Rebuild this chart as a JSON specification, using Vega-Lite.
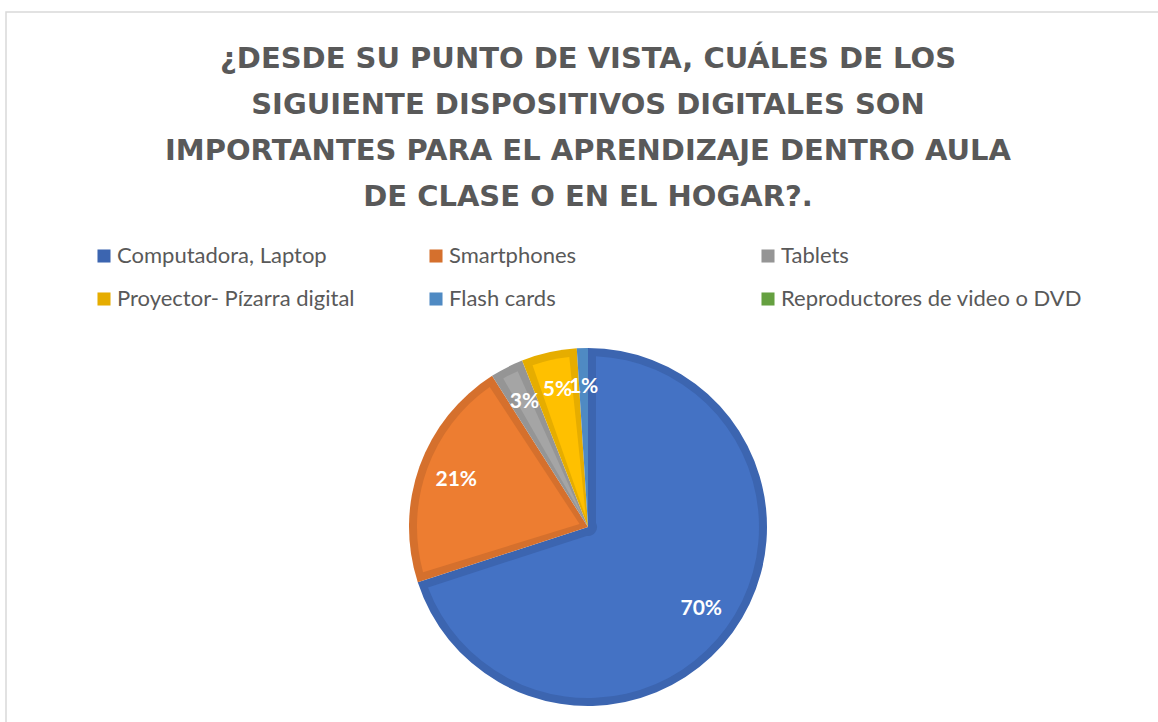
{
  "$schema": "https://vega.github.io/schema/vega-lite/v6.json",
  "autosize": {"type": "fit", "contains": "padding"},
  "width": 1158,
  "height": 722,
  "padding": {"left": 6, "top": 12, "right": -12, "bottom": -320},
  "background": "white",
  "view": {"stroke": "#d9d9d9", "strokeWidth": 1.5, "fill": "white"},
  "title": {
    "text": ["¿DESDE SU PUNTO DE VISTA, CUÁLES DE LOS", "SIGUIENTE DISPOSITIVOS DIGITALES SON", "IMPORTANTES PARA EL APRENDIZAJE DENTRO AULA", "DE CLASE O EN EL HOGAR?."],
    "anchor": "middle",
    "frame": "group",
    "font": "DejaVu Sans",
    "fontSize": 29,
    "fontWeight": "bold",
    "color": "#595959",
    "lineHeight": 46,
    "offset": -200
  },
  "data": {
    "values": [
      {"cat": "Computadora, Laptop", "value": 0.70, "idx": 1},
      {"cat": "Smartphones", "value": 0.21, "idx": 2},
      {"cat": "Tablets", "value": 0.03, "idx": 3},
      {"cat": "Proyector- Pízarra digital", "value": 0.05, "idx": 4},
      {"cat": "Flash cards", "value": 0.01, "idx": 5},
      {"cat": "Reproductores de video o DVD", "value": 0, "idx": 6}
    ]
  },
  "encoding": {
    "theta": {"field": "value", "type": "quantitative", "stack": true},
    "order": {"field": "idx", "type": "quantitative"}
  },
  "layer": [
    {
      "mark": {"type": "arc", "outerRadius": 179},
      "encoding": {
        "fill": {
          "field": "cat",
          "type": "nominal",
          "scale": {
            "domain": ["Computadora, Laptop", "Smartphones", "Tablets", "Proyector- Pízarra digital", "Flash cards", "Reproductores de video o DVD"],
            "range": ["#3c65b0", "#d5702d", "#959595", "#e6ad00", "#4f8ac3", "#65a040"]
          },
          "legend": {
            "orient": "none",
            "legendX": 87,
            "legendY": 233,
            "direction": "horizontal",
            "columns": 3,
            "gridAlign": "all",
            "columnPadding": 6,
            "rowPadding": 21,
            "symbolType": "square",
            "symbolSize": 170,
            "symbolStrokeWidth": 0,
            "labelFont": "Lato",
            "labelFontSize": 22,
            "labelColor": "#595959",
            "labelOffset": 2,
            "labelLimit": 0,
            "title": null
          }
        }
      }
    },
    {
      "mark": {"type": "arc", "outerRadius": 171, "innerRadius": 9, "padAngle": 0.0935},
      "encoding": {
        "color": {
          "field": "cat",
          "type": "nominal",
          "scale": {
            "domain": ["Computadora, Laptop", "Smartphones", "Tablets", "Proyector- Pízarra digital", "Flash cards", "Reproductores de video o DVD"],
            "range": ["#4472C4", "#ED7D31", "#A5A5A5", "#FFC000", "#5B9BD5", "#70AD47"]
          },
          "legend": null
        }
      }
    },
    {
      "transform": [{"filter": "datum.value > 0"}],
      "mark": {"type": "text", "radius": 140, "font": "Lato", "fontSize": 21, "fontWeight": "bold", "color": "white"},
      "encoding": {
        "text": {"field": "value", "type": "quantitative", "format": ".0%"}
      }
    }
  ],
  "config": {"view": {"stroke": "#d9d9d9", "strokeWidth": 1.5}}
}
